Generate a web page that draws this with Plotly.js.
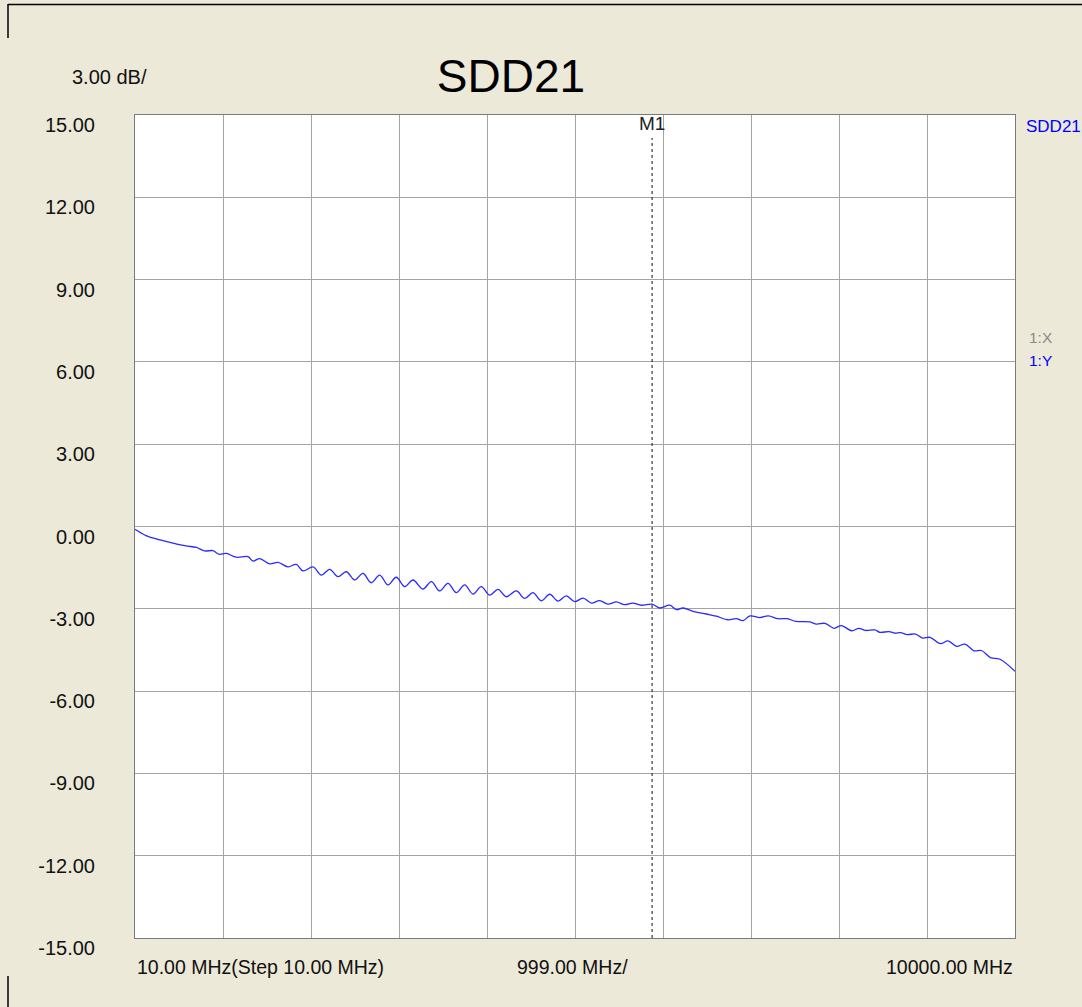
<!DOCTYPE html>
<html>
<head>
<meta charset="utf-8">
<script src="https://cdn.plot.ly/plotly-3.0.1.min.js"></script>
<style>
  html, body { margin: 0; padding: 0; background: #ECE9D8; }
  #chart { width: 1082px; height: 1007px; }
</style>
</head>
<body>
<div id="chart"></div>
<script>
// ---- Data ----
const freqMHz = [
  10, 135, 294, 441, 589, 706, 801, 895, 964, 1046,
  1160, 1293, 1350, 1426, 1539, 1633, 1747, 1841, 1917, 2031,
  2125, 2220, 2314, 2409, 2504, 2598, 2692, 2788, 2882, 2976,
  3072, 3166, 3279, 3374, 3469, 3563, 3657, 3753, 3847, 3941,
  4037, 4131, 4225, 4339, 4434, 4528, 4622, 4718, 4812, 4906,
  5002, 5096, 5190, 5285, 5379, 5474, 5569, 5663, 5758, 5879,
  5966, 6080, 6155, 6231, 6344, 6495, 6609, 6742, 6836, 6912,
  6991, 7105, 7199, 7309, 7412, 7514, 7673, 7746, 7843, 7945,
  8030, 8144, 8229, 8303, 8410, 8467, 8569, 8638, 8700, 8779,
  8870, 8950, 9035, 9154, 9239, 9336, 9432, 9534, 9619, 9722,
  9829, 10000
];
const sdd21dB = [
  -0.10, -0.33, -0.49, -0.61, -0.71, -0.76, -0.89, -0.88, -1.01, -0.98,
  -1.12, -1.10, -1.26, -1.17, -1.36, -1.31, -1.47, -1.38, -1.62, -1.47,
  -1.77, -1.56, -1.83, -1.65, -1.95, -1.71, -2.05, -1.77, -2.13, -1.85,
  -2.19, -1.95, -2.28, -2.01, -2.35, -2.07, -2.41, -2.13, -2.46, -2.19,
  -2.50, -2.29, -2.56, -2.35, -2.62, -2.41, -2.71, -2.47, -2.72, -2.53,
  -2.74, -2.61, -2.79, -2.70, -2.83, -2.75, -2.85, -2.79, -2.87, -2.83,
  -2.97, -2.87, -3.03, -2.97, -3.09, -3.19, -3.27, -3.40, -3.36, -3.43,
  -3.26, -3.32, -3.26, -3.36, -3.36, -3.46, -3.48, -3.56, -3.53, -3.71,
  -3.61, -3.80, -3.71, -3.79, -3.77, -3.86, -3.83, -3.89, -3.87, -3.94,
  -3.92, -4.07, -4.04, -4.27, -4.17, -4.37, -4.29, -4.53, -4.52, -4.78,
  -4.84, -5.28
];
const xGridMHz = [10, 1009, 2008, 3007, 4006, 5005, 6004, 7003, 8002, 9001, 10000];
const yTickVals = [-15, -12, -9, -6, -3, 0, 3, 6, 9, 12, 15];
const yTickText = ["-15.00", "-12.00", "-9.00", "-6.00", "-3.00", "0.00", "3.00", "6.00", "9.00", "12.00", "15.00"];
const xLabels = ["10.00 MHz(Step 10.00 MHz)", "999.00 MHz/", "10000.00 MHz"];
const markerNames = ["M1"];
const markerFreqs = [5880];
const titleText = "SDD21";
const yScaleText = "3.00 dB/";
const traceName = "SDD21";
const markerInfo = ["1:X", "1:Y"];

// ---- Chart ----
const FONT = "Liberation Sans, Arial, sans-serif";
const BG = "#ECE9D8";

const trace = {
  x: freqMHz,
  y: sdd21dB,
  type: "scatter",
  mode: "lines",
  name: traceName,
  line: { color: "#2a2aff", width: 1.3, shape: "spline", smoothing: 1 },
  hoverinfo: "x+y"
};

const annotations = [
  { text: yScaleText, xref: "paper", yref: "paper", x: (109.5 - 135) / 880, y: 1.0 + (115 - 77) / 823,
    xanchor: "center", yanchor: "middle", showarrow: false, font: { family: FONT, size: 20, color: "#111" } },
  { text: xLabels[0], xref: "paper", yref: "paper", x: 0, y: -(967 - 938) / 823,
    xanchor: "left", yanchor: "middle", showarrow: false, font: { family: FONT, size: 19.5, color: "#111" } },
  { text: xLabels[1], xref: "paper", yref: "paper", x: 0.497, y: -(967 - 938) / 823,
    xanchor: "center", yanchor: "middle", showarrow: false, font: { family: FONT, size: 19.5, color: "#111" } },
  { text: xLabels[2], xref: "paper", yref: "paper", x: 1, y: -(967 - 938) / 823,
    xanchor: "right", yanchor: "middle", showarrow: false, font: { family: FONT, size: 19.5, color: "#111" } },
  { text: traceName, xref: "paper", yref: "paper", x: (1024 - 135) / 880, y: 1 - (126 - 115) / 823,
    xanchor: "left", yanchor: "middle", showarrow: false, font: { family: FONT, size: 17, color: "#0000ff" } },
  { text: markerInfo[0], xref: "paper", yref: "paper", x: (1027 - 135) / 880, y: 1 - (337 - 115) / 823,
    xanchor: "left", yanchor: "middle", showarrow: false, font: { family: FONT, size: 15.5, color: "#8a8a8a" } },
  { text: markerInfo[1], xref: "paper", yref: "paper", x: (1027 - 135) / 880, y: 1 - (360 - 115) / 823,
    xanchor: "left", yanchor: "middle", showarrow: false, font: { family: FONT, size: 15.5, color: "#0000ff" } },
  { text: markerNames[0], xref: "x", yref: "paper", x: markerFreqs[0], y: 1 - (124 - 115) / 823,
    xanchor: "center", yanchor: "middle", showarrow: false, font: { family: FONT, size: 19, color: "#222" } }
];

const shapes = [
  { type: "line", xref: "x", yref: "paper", x0: markerFreqs[0], x1: markerFreqs[0],
    y0: 0, y1: (938 - 138) / 823, line: { color: "#111", width: 1, dash: "dot" } },
  // window frame lines
  { type: "line", xref: "paper", yref: "paper", x0: (8 - 135) / 880, x1: (1082 - 135) / 880,
    y0: (938 - 4.5) / 823, y1: (938 - 4.5) / 823, line: { color: "#000", width: 1.5 } },
  { type: "line", xref: "paper", yref: "paper", x0: (8 - 135) / 880, x1: (8 - 135) / 880,
    y0: (938 - 4) / 823, y1: (938 - 38) / 823, line: { color: "#000", width: 1.5 } },
  { type: "line", xref: "paper", yref: "paper", x0: (8 - 135) / 880, x1: (8 - 135) / 880,
    y0: (938 - 976) / 823, y1: (938 - 1007) / 823, line: { color: "#000", width: 1.5 } }
];

const layout = {
  width: 1082,
  height: 1007,
  margin: { l: 135, r: 67, t: 115, b: 69 },
  paper_bgcolor: BG,
  plot_bgcolor: "#ffffff",
  showlegend: false,
  title: {
    text: titleText,
    xref: "container", yref: "container",
    x: 511 / 1082, y: 1 - 76 / 1007,
    xanchor: "center", yanchor: "middle",
    font: { family: FONT, size: 46, color: "#000" }
  },
  xaxis: {
    range: [10, 10000],
    tickmode: "array",
    tickvals: xGridMHz,
    showticklabels: false,
    ticks: "",
    showgrid: true,
    gridcolor: "#a4a4a4",
    gridwidth: 1,
    zeroline: false,
    showline: true,
    linecolor: "#7a7a7a",
    linewidth: 1,
    mirror: true,
    fixedrange: true
  },
  yaxis: {
    range: [-15, 15],
    tickmode: "array",
    tickvals: yTickVals,
    ticktext: yTickText,
    ticks: "",
    ticklabelstandoff: 35,
    ticklabelshift: 10,
    tickfont: { family: FONT, size: 20, color: "#111" },
    showgrid: true,
    gridcolor: "#a4a4a4",
    gridwidth: 1,
    zeroline: false,
    showline: true,
    linecolor: "#7a7a7a",
    linewidth: 1,
    mirror: true,
    fixedrange: true
  },
  annotations: annotations,
  shapes: shapes
};

Plotly.newPlot("chart", [trace], layout, { displayModeBar: false, staticPlot: true });
</script>
</body>
</html>
